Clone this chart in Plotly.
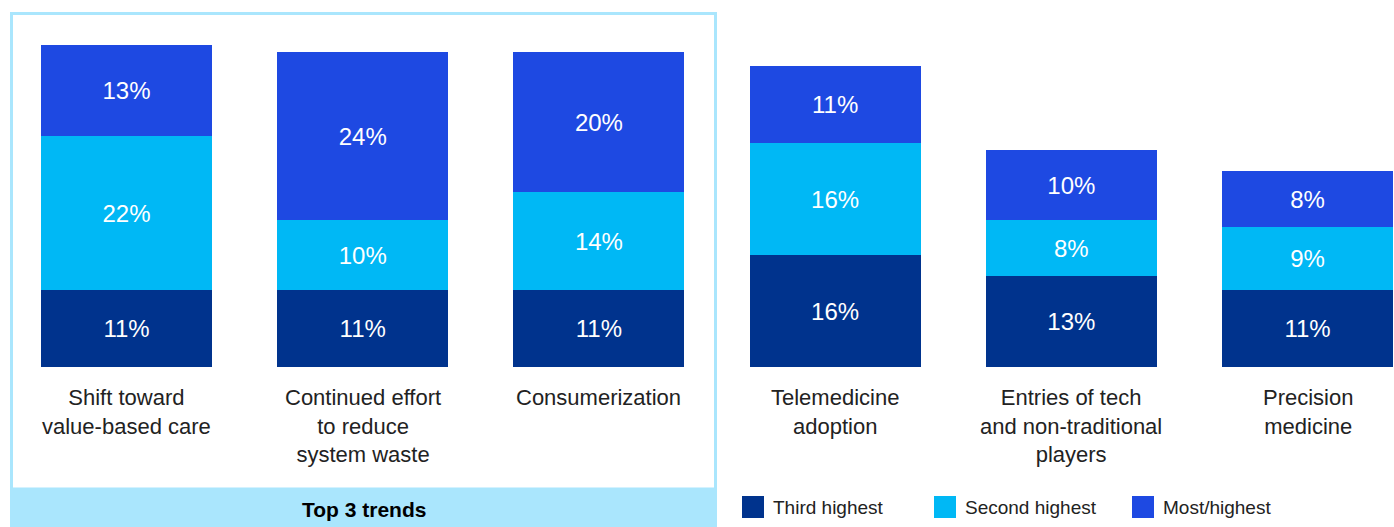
import plotly.graph_objects as go

# Trend categories (line breaks as set on the chart)
categories = [
    "Shift toward<br>value-based care",
    "Continued effort<br>to reduce<br>system waste",
    "Consumerization",
    "Telemedicine<br>adoption",
    "Entries of tech<br>and non-traditional<br>players",
    "Precision<br>medicine",
]

# Share of respondents (%) by ranking
third_highest = [11, 11, 11, 16, 13, 11]
second_highest = [22, 10, 14, 16, 8, 9]
most_highest = [13, 24, 20, 11, 10, 8]

series_names = ["Third highest", "Second highest", "Most/highest"]
series_colors = ["#00338D", "#00B8F5", "#1E49E2"]

W, H = 1394, 527
FONT = "Liberation Sans, Arial, sans-serif"

# pixel geometry of the chart area
bar_pitch = 236.2          # px between bar centres
first_center = 126.5       # px of first bar centre
bar_px = 171.0
plot_bottom = 367.0        # px of the zero line
px_per_pct = 7.0

x_idx = list(range(len(categories)))
x_lo = -first_center / bar_pitch
x_hi = (W - first_center) / bar_pitch
y_hi = plot_bottom / px_per_pct

fig = go.Figure()
for name, color, vals in zip(series_names, series_colors,
                             [third_highest, second_highest, most_highest]):
    fig.add_trace(go.Bar(
        x=x_idx, y=vals, name=name,
        marker=dict(color=color, line=dict(width=0)),
        width=bar_px / bar_pitch,
        text=[f"{v}%" for v in vals],
        textposition="inside",
        insidetextanchor="middle",
        textangle=0,
        textfont=dict(family=FONT, size=24, color="white"),
        hoverinfo="skip",
        showlegend=False,
    ))


def px_x(p):
    return p / W


def px_y(p):
    return 1 - p / H


shapes = []
annotations = []

# "Top 3 trends" frame and band
frame_color = "#AAE6FD"
shapes.append(dict(type="rect", xref="paper", yref="paper",
                   x0=px_x(11.5), x1=px_x(715.5), y0=px_y(526), y1=px_y(13.5),
                   line=dict(color=frame_color, width=3), fillcolor="rgba(0,0,0,0)",
                   layer="below"))
shapes.append(dict(type="rect", xref="paper", yref="paper",
                   x0=px_x(10), x1=px_x(717), y0=px_y(527), y1=px_y(487.5),
                   line=dict(width=0), fillcolor=frame_color, layer="below"))
annotations.append(dict(xref="paper", yref="paper", x=px_x(363.5), y=px_y(509),
                        xanchor="center", yanchor="middle", showarrow=False,
                        text="<b>Top 3 trends</b>",
                        font=dict(family=FONT, size=21, color="#000000")))

# category labels under the bars
for i, cat in enumerate(categories):
    annotations.append(dict(xref="x", yref="paper", x=i, y=px_y(383),
                            xanchor="center", yanchor="top", showarrow=False,
                            align="center", text=cat,
                            font=dict(family=FONT, size=22, color="#222222")))

# legend swatches
legend_x = [742, 934, 1132]
for name, color, lx in zip(series_names, series_colors, legend_x):
    shapes.append(dict(type="rect", xref="paper", yref="paper",
                       x0=px_x(lx), x1=px_x(lx + 22), y0=px_y(518), y1=px_y(496),
                       line=dict(width=0), fillcolor=color))
    annotations.append(dict(xref="paper", yref="paper", x=px_x(lx + 29), y=px_y(507.5),
                            xanchor="left", yanchor="middle", showarrow=False,
                            text=name,
                            font=dict(family=FONT, size=19, color="#222222")))

fig.update_layout(
    width=W, height=H,
    margin=dict(l=0, r=0, t=0, b=0),
    barmode="stack",
    plot_bgcolor="white",
    paper_bgcolor="white",
    xaxis=dict(range=[x_lo, x_hi], visible=False, fixedrange=True),
    yaxis=dict(range=[0, y_hi], domain=[1 - plot_bottom / H, 1],
               visible=False, fixedrange=True),
    shapes=shapes,
    annotations=annotations,
    uniformtext=dict(mode=False),
)

fig.write_html("out.html")
